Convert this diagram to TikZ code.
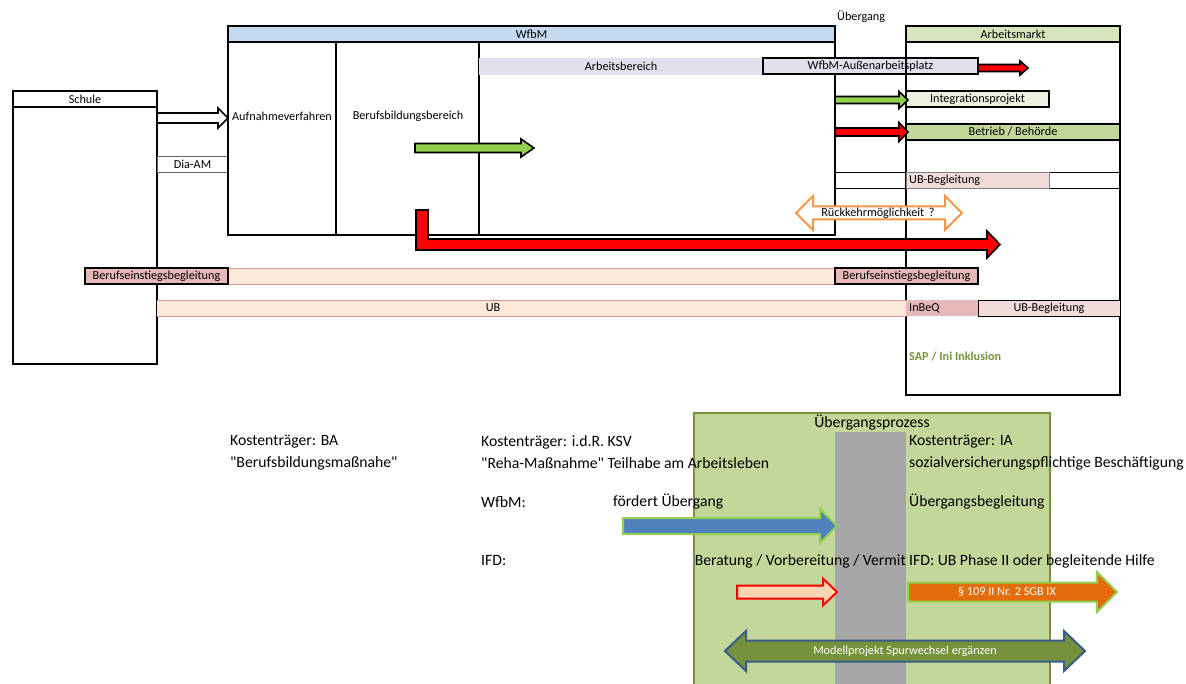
\documentclass[tikz,border=0pt]{standalone}
\usepackage{fontspec}
\setmainfont{Carlito}
\newfontfamily\qfont{Carlito}
\definecolor{wfbmblue}{HTML}{C5D9F1}
\definecolor{amgreen}{HTML}{D8E4BC}
\definecolor{lav}{HTML}{E4DFEC}
\definecolor{intgreen}{HTML}{EBF1DE}
\definecolor{betgreen}{HTML}{C4D79B}
\definecolor{ubpink}{HTML}{F2DCDB}
\definecolor{bebrose}{HTML}{E6B8B7}
\definecolor{barfill}{HTML}{FDE9D9}
\definecolor{barline}{HTML}{DA9694}
\definecolor{arrgreen}{HTML}{92D050}
\definecolor{orangeline}{HTML}{F79646}
\definecolor{procgreen}{HTML}{C4D79B}
\definecolor{procline}{HTML}{77933C}
\definecolor{graycol}{HTML}{A6A6A6}
\definecolor{bluearr}{HTML}{4F81BD}
\definecolor{peach}{HTML}{FCD5B4}
\definecolor{orangearr}{HTML}{E46C0A}
\definecolor{olive}{HTML}{76923C}
\definecolor{darkblue}{HTML}{385D8A}
\newcommand{\sq}{{\qfont"}}
% right arrow: style, x1, x2, y, shaft half, head half, head length
\newcommand{\rarrow}[7]{%
 \draw[#1] (#2,#4-#5) -- (#3-#7,#4-#5) -- (#3-#7,#4-#6) -- (#3,#4) -- (#3-#7,#4+#6) -- (#3-#7,#4+#5) -- (#2,#4+#5) -- cycle;}
% double arrow
\newcommand{\lrarrow}[7]{%
 \draw[#1] (#2,#4) -- (#2+#7,#4-#6) -- (#2+#7,#4-#5) -- (#3-#7,#4-#5) -- (#3-#7,#4-#6) -- (#3,#4) -- (#3-#7,#4+#6) -- (#3-#7,#4+#5) -- (#2+#7,#4+#5) -- (#2+#7,#4+#6) -- cycle;}
\begin{document}
\begin{tikzpicture}[x=1pt,y=-1pt,line join=miter,
  tx/.style={font=\fontsize{12.2}{14}\selectfont, inner sep=0pt},
  big/.style={font=\fontsize{15.7}{18}\selectfont, inner sep=0pt, anchor=west},
  box/.style={anchor=north west, inner sep=0pt, outer sep=0pt, font=\fontsize{12.2}{14}\selectfont},
  heavy/.style={draw=black, line width=1.6pt},
  thinl/.style={draw=black, line width=0.7pt},
  blk/.style={draw=black, line width=1.6pt},
]
\useasboundingbox[fill=white] (0,0) rectangle (1186,684);

% ---------------- Schule
\node[box, heavy, minimum width=144pt, minimum height=273pt] (schule) at (13,91) {};
\node[box, heavy, minimum width=144pt, minimum height=16pt] (schulehead) at (13,91) {Schule};
\node[box, draw=black!60, line width=0.7pt, minimum width=71pt, minimum height=16pt] (dia) at (157,156) {Dia-AM};

% ---------------- WfbM
\node[box, heavy, minimum width=607pt, minimum height=209pt] (wfbm) at (228,26) {};
\node[box, heavy, fill=wfbmblue, minimum width=607pt, minimum height=16pt] (wfbmhead) at (228,26) {WfbM};
\draw[line width=1.6pt] (336,42) -- (336,235);
\draw[line width=1.6pt] (479,42) -- (479,235);
\node[tx] (aufn) at (282,116) {Aufnahmeverfahren};
\node[tx] (bbb) at (408,116) {Berufsbildungsbereich};
\node[box, fill=lav, minimum width=284pt, minimum height=17pt] (ab) at (479,58) {Arbeitsbereich};
\node[box, heavy, fill=lav, minimum width=215pt, minimum height=16pt] (aussen) at (763,58) {WfbM-Außenarbeitsplatz};

\node[tx, anchor=west] (uebergang) at (837,17) {Übergang};

% ---------------- Arbeitsmarkt
\node[box, heavy, minimum width=214pt, minimum height=369pt] (am) at (906,26) {};
\node[box, heavy, fill=amgreen, minimum width=214pt, minimum height=16pt] (amhead) at (906,26) {Arbeitsmarkt};
\node[box, heavy, fill=intgreen, minimum width=143pt, minimum height=16pt] (integ) at (906,91) {Integrationsprojekt};
\node[box, heavy, fill=betgreen, minimum width=214pt, minimum height=16pt] (betrieb) at (906,124) {Betrieb / Behörde};
\draw[thinl] (835,172) -- (1120,172);
\draw[thinl] (835,188) -- (1120,188);
\node[box, fill=ubpink, draw=black!50, line width=0.6pt, minimum width=143pt, minimum height=16pt] (ubbeg1) at (906,172) {};
\node[tx, anchor=west] (ubbeg1t) at (909,180) {UB-Begleitung};

% ---------------- Berufseinstiegsbegleitung row
\node[box, fill=barfill, minimum width=607pt, minimum height=16pt] (bebbar) at (228,268) {};
\draw[barline, line width=0.9pt] (bebbar.north west) -- (bebbar.north east) (bebbar.south west) -- (bebbar.south east);
\node[box, heavy, fill=bebrose, minimum width=143pt, minimum height=16pt] (bebl) at (85,268) {Berufseinstiegsbegleitung};
\node[box, heavy, fill=bebrose, minimum width=143pt, minimum height=16pt] (bebr) at (835,268) {Berufseinstiegsbegleitung};

% ---------------- UB row
\node[box, fill=barfill, minimum width=749pt, minimum height=16pt] (ub) at (157,300) {};
\draw[barline, line width=0.9pt] (ub.north west) -- (ub.north east) (ub.south west) -- (ub.south east);
\node[tx] (ubt) at (493,308) {UB};
\node[box, fill=bebrose, minimum width=72pt, minimum height=16pt] (inbeq) at (906,300) {};
\node[tx, anchor=west] (inbeqt) at (909,308) {InBeQ};
\node[box, thinl, fill=ubpink, minimum width=142pt, minimum height=16pt] (ubbeg2) at (978,300) {UB-Begleitung};

\node[tx, anchor=west, font=\fontsize{12.2}{14}\selectfont\bfseries, text=olive] (sap) at (909,356) {SAP / Ini Inklusion};

% ---------------- top arrows
\rarrow{blk, fill=white}{157}{228}{118}{5}{10}{10}
\rarrow{blk, fill=arrgreen}{415}{534}{148}{4.5}{9}{13}
\rarrow{blk, fill=red}{978}{1028}{68}{3.5}{7}{8}
\rarrow{blk, fill=arrgreen}{835}{908}{100}{3.5}{8.5}{9}
\rarrow{blk, fill=red}{835}{908}{132}{4}{9.5}{9}
\lrarrow{draw=orangeline, line width=2pt, fill=white}{796}{962}{213}{6.5}{17}{17}
\node[tx] (rueck) at (878,213) {Rückkehrmöglichkeit \,?};
\draw[blk, fill=red] (416,210) -- (428,210) -- (428,239) -- (987,239) -- (987,231) -- (1000,244.5) -- (987,258) -- (987,250) -- (416,250) -- cycle;

% ---------------- bottom section
\node[draw=procline, line width=1.5pt, fill=procgreen, anchor=north west, inner sep=0pt, minimum width=356pt, minimum height=290pt] (proc) at (693,412) {};
\node[fill=graycol, anchor=north west, inner sep=0pt, minimum width=71pt, minimum height=260pt] (graycolumn) at (835,432) {};
\node[font=\fontsize{15.7}{18}\selectfont, inner sep=0pt] (proct) at (872,423) {Übergangsprozess};

\node[big] (k1) at (230,442) {Kostenträger: BA};
\node[big] (k1b) at (230,463) {\sq Berufsbildungsmaßnahe\sq};
\node[big] (k2) at (481,442) {Kostenträger: i.d.R. KSV};
\node[big] (k2b) at (481,463) {\sq Reha-Maßnahme\sq{} Teilhabe am Arbeitsleben};
\node[big] (k3) at (909,442) {Kostenträger: IA};
\node[big] (k3b) at (909,463) {sozialversicherungspflichtige Beschäftigung};
\node[big] (w1) at (481,502) {WfbM:};
\node[big] (w2) at (613,502) {fördert Übergang};
\node[big] (w3) at (909,502) {Übergangsbegleitung};
\node[big] (i1) at (481,561) {IFD:};
\node[big, anchor=east] (i2) at (906,561) {Beratung / Vorbereitung / Vermit};
\node[big] (i3) at (909,561) {IFD: UB Phase II oder begleitende Hilfe};

\rarrow{draw=arrgreen, line width=2pt, fill=bluearr}{623}{837}{526}{8}{17}{17}
\rarrow{draw=red, line width=2pt, fill=peach}{737}{837}{592}{6.5}{13.5}{14}
\rarrow{draw=arrgreen, line width=2pt, fill=orangearr}{908}{1117}{592}{9.5}{20}{20}
\node[tx, text=white] (sgb) at (1007,592) {§ 109 II Nr. 2 SGB IX};
\lrarrow{draw=darkblue, line width=2pt, fill=olive}{725}{1085}{651}{10.5}{20}{21}
\node[tx, text=white] (modell) at (905,651) {Modellprojekt Spurwechsel ergänzen};
\end{tikzpicture}
\end{document}
